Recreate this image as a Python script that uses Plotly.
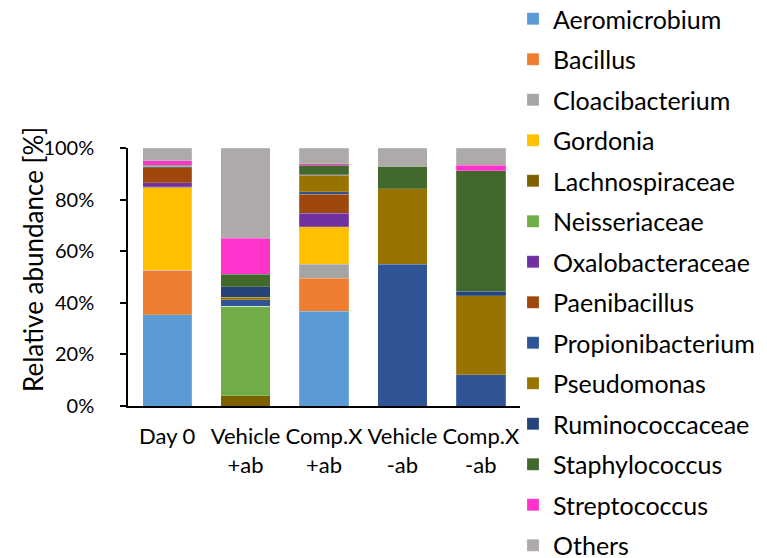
import plotly.graph_objects as go

categories = ["Day 0", "Vehicle<br>+ab", "Comp.X<br>+ab", "Vehicle<br>-ab", "Comp.X<br>-ab"]

series_names = [
    "Aeromicrobium", "Bacillus", "Cloacibacterium", "Gordonia", "Lachnospiraceae",
    "Neisseriaceae", "Oxalobacteraceae", "Paenibacillus", "Propionibacterium",
    "Pseudomonas", "Ruminococcaceae", "Staphylococcus", "Streptococcus", "Others",
]

aeromicrobium     = [35.4, 0.0, 36.8, 0.0, 0.0]
bacillus          = [17.2, 0.0, 12.7, 0.0, 0.0]
cloacibacterium   = [0.0, 0.0, 5.4, 0.0, 0.0]
gordonia          = [32.0, 0.0, 14.6, 0.0, 0.0]
lachnospiraceae   = [0.2, 4.0, 0.0, 0.0, 0.0]
neisseriaceae     = [0.2, 34.6, 0.0, 0.0, 0.0]
oxalobacteraceae  = [1.5, 0.0, 5.3, 0.0, 0.0]
paenibacillus     = [5.9, 0.0, 7.2, 0.0, 0.0]
propionibacterium = [0.3, 2.6, 1.1, 55.0, 12.2]
pseudomonas       = [0.2, 0.9, 6.4, 29.3, 30.6]
ruminococcaceae   = [0.3, 4.2, 0.3, 0.0, 1.7]
staphylococcus    = [0.2, 4.7, 3.6, 8.6, 46.7]
streptococcus     = [1.6, 14.0, 0.5, 0.0, 2.2]
others            = [5.0, 35.0, 6.1, 7.1, 6.6]

series_values = [
    aeromicrobium, bacillus, cloacibacterium, gordonia, lachnospiraceae,
    neisseriaceae, oxalobacteraceae, paenibacillus, propionibacterium,
    pseudomonas, ruminococcaceae, staphylococcus, streptococcus, others,
]

colors = [
    "#5B9BD5", "#ED7D31", "#A5A5A5", "#FFC000", "#7F6000",
    "#70AD47", "#7030A0", "#9E480E", "#2F5597",
    "#997300", "#264478", "#43682B", "#FF33CC", "#AEAAAA",
]

y_tick_values = [0, 20, 40, 60, 80, 100]
y_tick_labels = ["0%", "20%", "40%", "60%", "80%", "100%"]

FONT = "Lato, Carlito, Calibri, sans-serif"

# page body has an 8px default margin; the figure is sized/shifted to compensate
W, H = 759, 550
L, T, PW, PH = 120, 140, 392, 258

fig = go.Figure()
for name, vals, col in zip(series_names, series_values, colors):
    fig.add_trace(go.Bar(
        name=name, x=categories, y=vals,
        marker=dict(color=col, line=dict(color="rgba(255,255,255,0.35)", width=0.5)),
        legendgroup=name,
    ))

fig.update_layout(
    width=W, height=H,
    barmode="stack", bargap=0.37,
    plot_bgcolor="white", paper_bgcolor="white",
    margin=dict(l=L, r=W - L - PW, t=T, b=H - T - PH, autoexpand=False),
    font=dict(family=FONT, color="black"),
    showlegend=True,
    legend=dict(
        traceorder="grouped", tracegroupgap=5,
        xref="container", yref="paper",
        x=505 / W, xanchor="left", y=1 + (T + 12) / PH, yanchor="top",
        maxheight=700,
        font=dict(family=FONT, size=25, color="black"),
        bgcolor="rgba(0,0,0,0)", borderwidth=0,
    ),
    xaxis=dict(
        showline=True, linecolor="black", linewidth=1.5,
        ticks="", tickfont=dict(family=FONT, size=22, color="black"),
        showgrid=False, ticklabelstandoff=10, automargin=False,
    ),
    yaxis=dict(
        range=[0, 100], tickvals=y_tick_values, ticktext=y_tick_labels,
        showline=True, linecolor="black", linewidth=1.5,
        ticks="outside", ticklen=6, tickcolor="black", tickwidth=1.5,
        tickfont=dict(family=FONT, size=20, color="black"),
        showgrid=False, zeroline=False, ticklabelstandoff=22, automargin=False,
    ),
    annotations=[dict(
        text="Relative abundance [%]", textangle=-90,
        xref="paper", yref="paper",
        x=(25 - L) / PW, y=(T + PH - 252) / PH,
        xanchor="center", yanchor="middle", showarrow=False,
        font=dict(family=FONT, size=26, color="black"),
    )],
)

fig.write_html("out.html")
